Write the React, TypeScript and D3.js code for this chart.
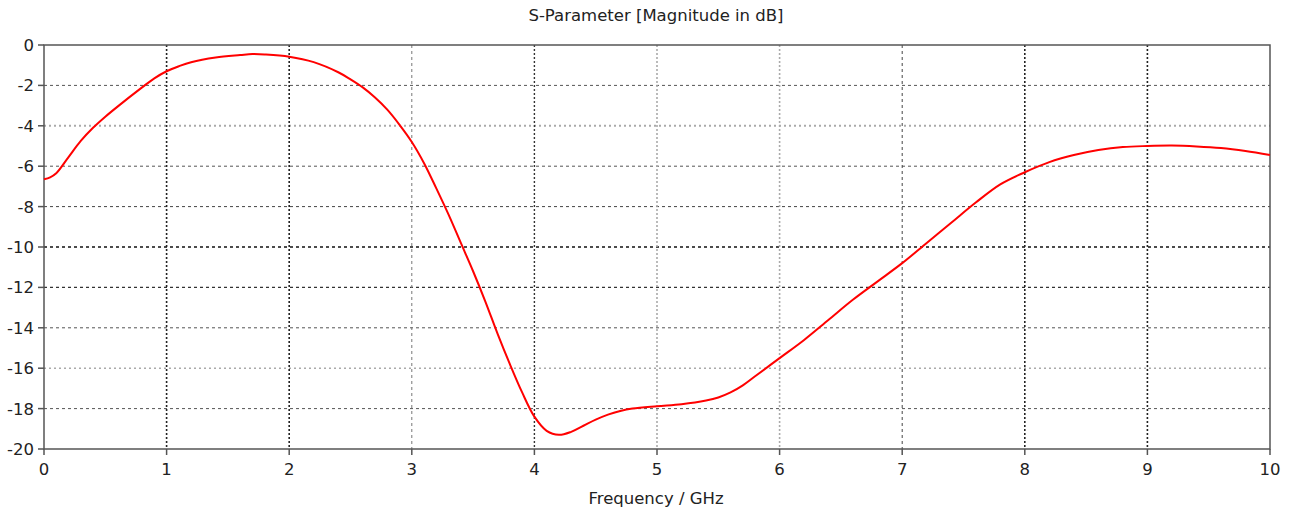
import React from "react";
import * as d3 from "d3";

const freq = [0, 0.05, 0.1, 0.2, 0.3, 0.4, 0.5, 0.6, 0.8, 0.9, 1.0, 1.1, 1.2, 1.4, 1.6, 1.7, 1.8, 2.0, 2.2, 2.4, 2.5, 2.6, 2.7, 2.8, 2.9, 3.0, 3.1, 3.2, 3.3, 3.4, 3.5, 3.6, 3.7, 3.8, 3.9, 4.0, 4.1, 4.2, 4.3, 4.4, 4.5, 4.6, 4.7, 4.8, 5.0, 5.2, 5.4, 5.5, 5.6, 5.7, 5.8, 6.0, 6.2, 6.4, 6.6, 6.8, 7.0, 7.2, 7.4, 7.6, 7.8, 8.0, 8.2, 8.4, 8.6, 8.8, 9.0, 9.2, 9.4, 9.6, 9.8, 10];
const s11 = [-6.65, -6.55, -6.35, -5.55, -4.75, -4.1, -3.55, -3.05, -2.1, -1.65, -1.3, -1.05, -0.85, -0.62, -0.5, -0.45, -0.47, -0.58, -0.85, -1.35, -1.7, -2.1, -2.6, -3.2, -3.95, -4.8, -5.85, -7.1, -8.4, -9.8, -11.2, -12.7, -14.3, -15.8, -17.2, -18.4, -19.1, -19.3, -19.15, -18.85, -18.55, -18.3, -18.12, -18.0, -17.88, -17.78, -17.6, -17.45, -17.2, -16.85, -16.4, -15.5, -14.6, -13.6, -12.6, -11.7, -10.8, -9.8, -8.8, -7.8, -6.9, -6.3, -5.8, -5.45, -5.2, -5.05, -5.0, -4.98, -5.02, -5.1, -5.25, -5.45];
const xTicks = [0, 1, 2, 3, 4, 5, 6, 7, 8, 9, 10];
const yTicks = [0, -2, -4, -6, -8, -10, -12, -14, -16, -18, -20];
const title = "S-Parameter [Magnitude in dB]";
const xTitle = "Frequency / GHz";

// grid appearance per tick (mimics reference rendering)
const hGridStyle: Record<number, [string, string, number]> = {
  [-2]: ["#555", "3,3", 1],
  [-4]: ["#aaa", "2,3", 2],
  [-6]: ["#555", "3,3", 1],
  [-8]: ["#444", "3,3", 1],
  [-10]: ["#111", "3,3", 1.6],
  [-12]: ["#333", "3,3", 1.2],
  [-14]: ["#555", "3,3", 1],
  [-16]: ["#aaa", "2,3", 1.6],
  [-18]: ["#555", "3,3", 1],
};
const vGridStyle: Record<number, [string, string, number]> = {
  1: ["#222", "2,2", 1.6],
  2: ["#222", "2,2", 1.6],
  3: ["#777", "3,3", 1],
  4: ["#333", "2,2", 1.4],
  5: ["#aaa", "2,2", 1.6],
  6: ["#aaa", "2,2", 1.6],
  7: ["#444", "3,3", 1],
  8: ["#222", "2,2", 1.6],
  9: ["#222", "2,2", 1.6],
};

export default function App() {
  const W = 1294, H = 510;
  const x0 = 44, x1 = 1270, y0 = 45, y1 = 449;
  const x = d3.scaleLinear().domain([0, 10]).range([x0, x1]);
  const y = d3.scaleLinear().domain([0, -20]).range([y0, y1]);
  const line = d3.line<number>()
    .x((_, i) => x(freq[i]))
    .y((d) => y(d))
    .curve(d3.curveCatmullRom.alpha(0.5));
  const font = "Tahoma, 'DejaVu Sans', Verdana, sans-serif";
  const axisColor = "#555";
  return (
    <svg width={W} height={H} style={{ position: "absolute", left: 0, top: 0, background: "#fff" }}>
      <rect x={0} y={0} width={W} height={H} fill="#fff" />
      <text x={656} y={21} textAnchor="middle" fontFamily={font} fontSize={16.5} fill="#222">{title}</text>
      {yTicks.filter((t) => t !== 0 && t !== -20).map((t) => {
        const st = hGridStyle[t];
        return <line key={"h" + t} x1={x0} x2={x1} y1={y(t)} y2={y(t)} stroke={st[0]} strokeDasharray={st[1]} strokeWidth={st[2]} />;
      })}
      {xTicks.filter((t) => t !== 0 && t !== 10).map((t) => {
        const st = vGridStyle[t];
        return <line key={"v" + t} x1={x(t)} x2={x(t)} y1={y0} y2={y1} stroke={st[0]} strokeDasharray={st[1]} strokeWidth={st[2]} />;
      })}
      <rect x={x0} y={y0} width={x1 - x0} height={y1 - y0} fill="none" stroke={axisColor} strokeWidth={1.5} />
      {yTicks.map((t) => (
        <g key={"yt" + t}>
          <line x1={x0 - 6} x2={x0} y1={y(t)} y2={y(t)} stroke={axisColor} strokeWidth={1.5} />
          <text x={x0 - 10} y={y(t)} dy="0.36em" textAnchor="end" fontFamily={font} fontSize={16.5} fill="#222">{t}</text>
        </g>
      ))}
      {xTicks.map((t) => (
        <g key={"xt" + t}>
          <line x1={x(t)} x2={x(t)} y1={y1} y2={y1 + 6} stroke={axisColor} strokeWidth={1.5} />
          <text x={x(t)} y={y1 + 26} textAnchor="middle" fontFamily={font} fontSize={16.5} fill="#222">{t}</text>
        </g>
      ))}
      <text x={656} y={504} textAnchor="middle" fontFamily={font} fontSize={16.5} fill="#222">{xTitle}</text>
      <path d={line(s11) || ""} fill="none" stroke="#ff0000" strokeWidth={2} />
    </svg>
  );
}
